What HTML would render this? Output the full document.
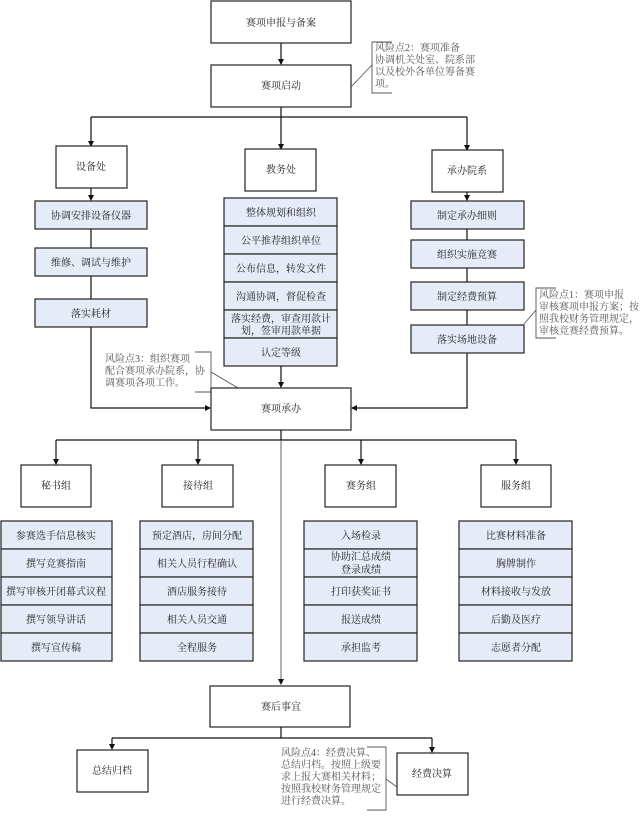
<!DOCTYPE html>
<html><head><meta charset="utf-8"><style>
html,body{margin:0;padding:0;background:#fff;}
svg{display:block;}
text{font-family:"Liberation Serif","Noto Serif CJK SC","Noto Sans CJK SC",serif;font-size:10px;fill:#222;}
.n{fill:#555;font-size:10px;}
.b{fill:#fff;stroke:#222;stroke-width:1.2;}
.c{fill:#e6ecf7;stroke:#222;stroke-width:1.2;}
.l{stroke:#111;stroke-width:1.2;fill:none;}
.g{stroke:#555;stroke-width:0.9;fill:none;}
</style></head><body>
<svg width="643" height="824" viewBox="0 0 643 824" xmlns="http://www.w3.org/2000/svg">
<defs><marker id="a" markerWidth="6" markerHeight="6" refX="5" refY="3" orient="auto" markerUnits="userSpaceOnUse"><path d="M0,0 L6,3 L0,6 z" fill="#111"/></marker></defs>

<!-- top -->
<rect class="b" x="211" y="1" width="140" height="42"/><text x="281" y="26" text-anchor="middle">赛项申报与备案</text>
<line class="l" x1="281" y1="43" x2="281" y2="64" marker-end="url(#a)"/>
<rect class="b" x="211" y="65" width="140" height="42"/><text x="281" y="89" text-anchor="middle">赛项启动</text>
<!-- note2 -->
<path class="g" d="M392,42 L372,42 L372,93 L392,93"/><line class="g" x1="351" y1="87" x2="372" y2="65"/>
<text class="n" x="375" y="51">风险点2：赛项准备</text>
<text class="n" x="375" y="63">协调机关处室、院系部</text>
<text class="n" x="375" y="75">以及校外各单位筹备赛</text>
<text class="n" x="375" y="87">项。</text>

<path class="l" d="M281,107 L281,117 M91,117 L467,117"/>
<line class="l" x1="91" y1="117" x2="91" y2="146" marker-end="url(#a)"/>
<line class="l" x1="281" y1="117" x2="281" y2="149" marker-end="url(#a)"/>
<line class="l" x1="467" y1="117" x2="467" y2="150" marker-end="url(#a)"/>

<rect class="b" x="56" y="146" width="71" height="42"/><text x="91" y="170" text-anchor="middle">设备处</text>
<rect class="b" x="245" y="149" width="71" height="42"/><text x="281" y="173" text-anchor="middle">教务处</text>
<rect class="b" x="432" y="150" width="71" height="42"/><text x="467" y="174" text-anchor="middle">承办院系</text>

<!-- left column -->
<line class="l" x1="91" y1="188" x2="91" y2="200" marker-end="url(#a)"/>
<path class="l" d="M91,229 L91,248 M91,276 L91,299 M91,327 L91,408 L210,408" marker-end="url(#a)"/>
<rect class="c" x="35" y="201" width="112" height="28"/><text x="91" y="219" text-anchor="middle">协调安排设备仪器</text>
<rect class="c" x="35" y="248" width="112" height="28"/><text x="91" y="266" text-anchor="middle">维修、调试与维护</text>
<rect class="c" x="35" y="299" width="112" height="28"/><text x="91" y="317" text-anchor="middle">落实耗材</text>

<!-- center column -->
<rect class="c" x="224" y="198" width="113" height="28"/><text x="281" y="216" text-anchor="middle">整体规划和组织</text>
<rect class="c" x="224" y="226" width="113" height="28"/><text x="281" y="244" text-anchor="middle">公平推荐组织单位</text>
<rect class="c" x="224" y="254" width="113" height="28"/><text x="281" y="272" text-anchor="middle">公布信息，转发文件</text>
<rect class="c" x="224" y="282" width="113" height="28"/><text x="281" y="300" text-anchor="middle">沟通协调，督促检查</text>
<rect class="c" x="224" y="310" width="113" height="28"/><text x="281" y="322" text-anchor="middle">落实经费，审查用款计</text><text x="281" y="334" text-anchor="middle">划，签审用款单据</text>
<rect class="c" x="224" y="338" width="113" height="28"/><text x="281" y="356" text-anchor="middle">认定等级</text>
<line class="l" x1="281" y1="366" x2="281" y2="387" marker-end="url(#a)"/>

<!-- right column -->
<line class="l" x1="467" y1="192" x2="467" y2="200" marker-end="url(#a)"/>
<path class="l" d="M467,229 L467,240 M467,268 L467,282 M467,310 L467,325 M467,352 L467,408 L352,408" marker-end="url(#a)"/>
<rect class="c" x="411" y="201" width="113" height="28"/><text x="467" y="219" text-anchor="middle">制定承办细则</text>
<rect class="c" x="411" y="240" width="113" height="28"/><text x="467" y="258" text-anchor="middle">组织实施竞赛</text>
<rect class="c" x="411" y="282" width="113" height="28"/><text x="467" y="300" text-anchor="middle">制定经费预算</text>
<rect class="c" x="411" y="325" width="113" height="28"/><text x="467" y="343" text-anchor="middle">落实场地设备</text>
<!-- note1 -->
<path class="g" d="M556,288 L536,288 L536,338 L556,338"/><line class="g" x1="524" y1="324" x2="536" y2="310"/>
<text class="n" x="539" y="298">风险点1：赛项申报</text>
<text class="n" x="539" y="310">审核赛项申报方案；按</text>
<text class="n" x="539" y="322">照我校财务管理规定，</text>
<text class="n" x="539" y="334">审核竞赛经费预算。</text>

<!-- note3 -->
<path class="g" d="M195,352 L211,352 L211,392 L195,392"/><line class="g" x1="211" y1="372" x2="238" y2="388"/>
<text class="n" x="105" y="362">风险点3：组织赛项</text>
<text class="n" x="105" y="374">配合赛项承办院系，协</text>
<text class="n" x="105" y="386">调赛项各项工作。</text>

<rect class="b" x="211" y="388" width="140" height="42"/><text x="281" y="412" text-anchor="middle">赛项承办</text>

<!-- groups -->
<path class="l" d="M56,440 L516,440"/>
<line class="l" x1="56" y1="440" x2="56" y2="464" marker-end="url(#a)"/>
<line class="l" x1="198" y1="440" x2="198" y2="464" marker-end="url(#a)"/>
<line class="l" x1="361" y1="440" x2="361" y2="464" marker-end="url(#a)"/>
<line class="l" x1="516" y1="440" x2="516" y2="464" marker-end="url(#a)"/>
<line class="l" x1="281" y1="430" x2="281" y2="440"/>
<line class="g" x1="281" y1="440" x2="281" y2="684" marker-end="url(#a)"/>

<rect class="b" x="21" y="465" width="70" height="42"/><text x="56" y="489" text-anchor="middle">秘书组</text>
<rect class="b" x="162" y="465" width="71" height="42"/><text x="198" y="489" text-anchor="middle">接待组</text>
<rect class="b" x="325" y="465" width="71" height="42"/><text x="361" y="489" text-anchor="middle">赛务组</text>
<rect class="b" x="481" y="465" width="70" height="42"/><text x="516" y="489" text-anchor="middle">服务组</text>

<g>
<rect class="c" x="1" y="521" width="111" height="28"/><text x="56" y="539" text-anchor="middle">参赛选手信息核实</text>
<rect class="c" x="1" y="549" width="111" height="28"/><text x="56" y="567" text-anchor="middle">撰写竞赛指南</text>
<rect class="c" x="1" y="577" width="111" height="28"/><text x="56" y="595" text-anchor="middle">撰写审核开闭幕式议程</text>
<rect class="c" x="1" y="605" width="111" height="28"/><text x="56" y="623" text-anchor="middle">撰写领导讲话</text>
<rect class="c" x="1" y="633" width="111" height="28"/><text x="56" y="651" text-anchor="middle">撰写宣传稿</text>

<rect class="c" x="140" y="521" width="113" height="28"/><text x="197" y="539" text-anchor="middle">预定酒店，房间分配</text>
<rect class="c" x="140" y="549" width="113" height="28"/><text x="197" y="567" text-anchor="middle">相关人员行程确认</text>
<rect class="c" x="140" y="577" width="113" height="28"/><text x="197" y="595" text-anchor="middle">酒店服务接待</text>
<rect class="c" x="140" y="605" width="113" height="28"/><text x="197" y="623" text-anchor="middle">相关人员交通</text>
<rect class="c" x="140" y="633" width="113" height="28"/><text x="197" y="651" text-anchor="middle">全程服务</text>

<rect class="c" x="304" y="521" width="113" height="28"/><text x="361" y="539" text-anchor="middle">入场检录</text>
<rect class="c" x="304" y="549" width="113" height="28"/><text x="361" y="560" text-anchor="middle">协助汇总成绩</text><text x="361" y="573" text-anchor="middle">登录成绩</text>
<rect class="c" x="304" y="577" width="113" height="28"/><text x="361" y="595" text-anchor="middle">打印获奖证书</text>
<rect class="c" x="304" y="605" width="113" height="28"/><text x="361" y="623" text-anchor="middle">报送成绩</text>
<rect class="c" x="304" y="633" width="113" height="28"/><text x="361" y="651" text-anchor="middle">承担监考</text>

<rect class="c" x="459" y="521" width="113" height="28"/><text x="516" y="539" text-anchor="middle">比赛材料准备</text>
<rect class="c" x="459" y="549" width="113" height="28"/><text x="516" y="567" text-anchor="middle">胸牌制作</text>
<rect class="c" x="459" y="577" width="113" height="28"/><text x="516" y="595" text-anchor="middle">材料接收与发放</text>
<rect class="c" x="459" y="605" width="113" height="28"/><text x="516" y="623" text-anchor="middle">后勤及医疗</text>
<rect class="c" x="459" y="633" width="113" height="28"/><text x="516" y="651" text-anchor="middle">志愿者分配</text>
</g>

<!-- after -->
<rect class="b" x="210" y="686" width="140" height="41"/><text x="281" y="710" text-anchor="middle">赛后事宜</text>
<path class="l" d="M281,727 L281,738 M112,738 L432,738"/>
<line class="l" x1="112" y1="738" x2="112" y2="749" marker-end="url(#a)"/>
<line class="l" x1="432" y1="738" x2="432" y2="752" marker-end="url(#a)"/>
<rect class="b" x="77" y="750" width="71" height="42"/><text x="112" y="774" text-anchor="middle">总结归档</text>
<rect class="b" x="397" y="753" width="71" height="42"/><text x="432" y="777" text-anchor="middle">经费决算</text>
<!-- note4 -->
<path class="g" d="M367,747 L386,747 L386,810 L367,810"/><line class="g" x1="386" y1="779" x2="397" y2="787"/>
<text class="n" x="281" y="756">风险点4：经费决算、</text>
<text class="n" x="281" y="768">总结归档。按照上级要</text>
<text class="n" x="281" y="780">求上报大赛相关材料；</text>
<text class="n" x="281" y="792">按照我校财务管理规定</text>
<text class="n" x="281" y="804">进行经费决算。</text>
</svg>
</body></html>
